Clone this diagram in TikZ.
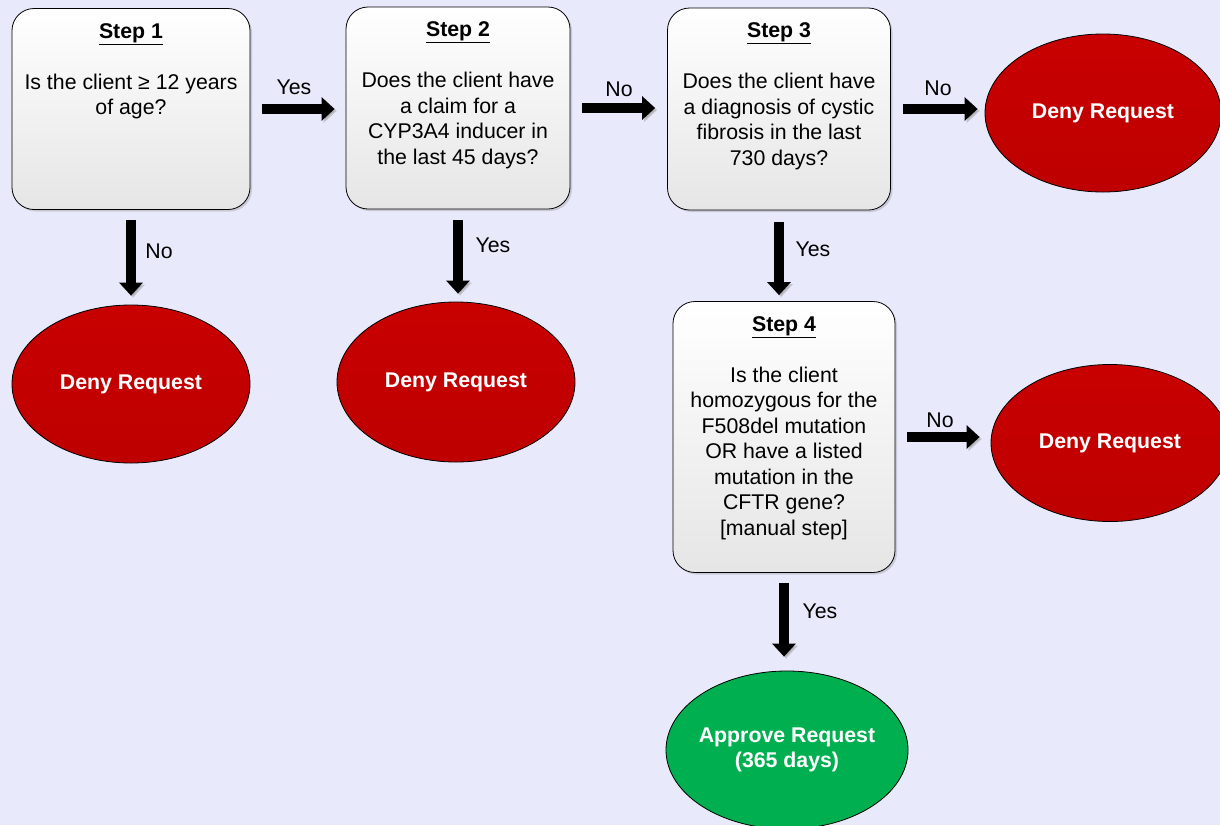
\documentclass[tikz,border=0pt]{standalone}
\usepackage{fontspec}
\setmainfont{Liberation Sans}
\usetikzlibrary{arrows.meta,shadows,shapes.geometric}
\definecolor{bgblue}{RGB}{232,234,252}
\definecolor{denyred}{RGB}{200,0,0}
\definecolor{okgreen}{RGB}{0,176,80}
\newcommand{\chartfont}{\fontsize{21.3}{25.5}\selectfont}
\tikzset{stepbox/.style={draw, thick, rounded corners=22pt, top color=white, bottom color=black!10,
            drop shadow={shadow xshift=2pt, shadow yshift=-2pt, opacity=.3}},
         steptext/.style={anchor=north, align=center, inner sep=0pt, yshift=-15pt},
         deny/.style={ellipse, draw, thick, top color=denyred, bottom color=denyred!95!black, text=white,
            font=\chartfont\bfseries, minimum width=238pt, minimum height=158pt},
         fat/.style={line width=10pt, -{Triangle[length=13pt,width=23pt]},
            preaction={draw=black!40, opacity=.5, transform canvas={xshift=2pt,yshift=-2pt}}},
         lbl/.style={inner sep=0pt}}

\begin{document}
\begin{tikzpicture}[x=1pt, y=-1pt, font=\chartfont]
                    \fill[bgblue] (0,0) rectangle (1220,825);
                    \useasboundingbox (0,0) rectangle (1220,825);

                    \node[stepbox, minimum width=238pt, minimum height=201pt] (s1) at (131,109) {};
                    \node[stepbox, minimum width=224pt, minimum height=202pt] (s2) at (458,108) {};
                    \node[stepbox, minimum width=223pt, minimum height=202pt] (s3) at (779,109) {};
                    \node[stepbox, minimum width=222pt, minimum height=271pt] (s4) at (784,437) {};

                    \node[steptext] (t1) at (s1.north) {\underline{\textbf{Step 1}}\\[25.5pt]
                        Is the client ≥ 12 years\\ of age?};
                    \node[steptext] (t2) at (s2.north) {\underline{\textbf{Step 2}}\\[25.5pt]
                        Does the client have\\ a claim for a\\ CYP3A4 inducer in\\ the last 45 days?};
                    \node[steptext] (t3) at (s3.north) {\underline{\textbf{Step 3}}\\[25.5pt]
                        Does the client have\\ a diagnosis of cystic\\ fibrosis in the last\\ 730 days?};
                    \node[steptext] (t4) at (s4.north) {\underline{\textbf{Step 4}}\\[25.5pt]
                        Is the client\\ homozygous for the\\ F508del mutation\\ OR have a listed\\
                        mutation in the\\ CFTR gene?\\ {[manual step]}};

                    \node[deny] (d1) at (131,384) {Deny Request};
                    \node[deny, minimum height=160pt] (d2) at (456,382) {Deny Request};
                    \node[deny, minimum width=236pt] (d3) at (1103,113) {Deny Request};
                    \node[deny, minimum height=157pt] (d4) at (1110,443) {Deny Request};
                    \node[ellipse, draw, thick, fill=okgreen, text=white, font=\chartfont\bfseries, align=center,
                        inner xsep=-10pt, minimum width=242pt, minimum height=158pt] (ap) at (787,750) {Approve Request\\ (365 days)};

                    \draw[fat, shorten <=12pt, shorten >=11pt] (s1.east) -- (s1.east -| s2.west);
                    \draw[fat, shorten <=12pt, shorten >=12pt] (s2.east) -- (s2.east -| s3.west);
                    \draw[fat, shorten <=12pt, shorten >=7pt] (s3.east) -- (s3.east -| d3.west);
                    \draw[fat, shorten <=12pt, shorten >=11pt] (s4.east) -- (s4.east -| d4.west);
                    \draw[fat, shorten <=10pt, shorten >=9pt] (s1.south) -- (s1.south |- d1.north);
                    \draw[fat, shorten <=11pt, shorten >=8pt] (s2.south) -- (s2.south |- d2.north);
                    \draw[fat, shorten <=12pt, shorten >=6pt] (s3.south) -- (s3.south |- s4.north);
                    \draw[fat, shorten <=10pt, shorten >=14pt] (s4.south) -- (s4.south |- ap.north);

                    \node[lbl] (y1) at (294,87) {Yes};
                    \node[lbl] (n2) at (619,89) {No};
                    \node[lbl] (n3) at (938,88) {No};
                    \node[lbl] (n1) at (159,251) {No};
                    \node[lbl] (y2) at (493,245) {Yes};
                    \node[lbl] (y3) at (813,249) {Yes};
                    \node[lbl] (n4) at (940,420) {No};
                    \node[lbl] (y4) at (820,611) {Yes};
                \end{tikzpicture}
\end{document}
